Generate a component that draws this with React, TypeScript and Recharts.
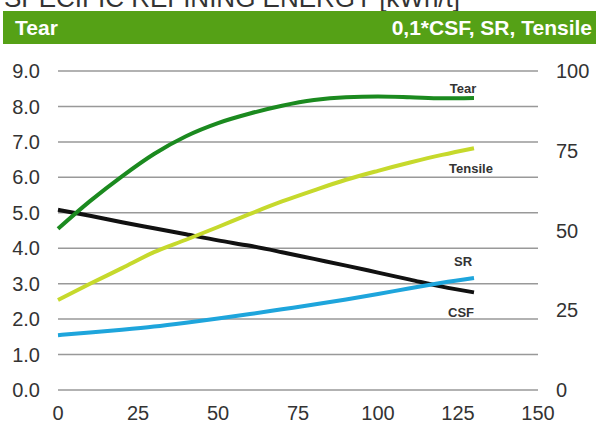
import { CartesianGrid, LabelList, Line, LineChart, XAxis, YAxis } from "recharts";

const energy = [0, 10, 20, 30, 40, 50, 60, 70, 80, 90, 100, 110, 120, 130];
// left axis
const tear = [4.55, 5.33, 6.03, 6.66, 7.16, 7.53, 7.8, 8.02, 8.18, 8.26, 8.28, 8.26, 8.23, 8.24];
// right axis
const tensile = [28.2, 33.3, 38.2, 43.2, 47.1, 51.1, 55.2, 59.1, 62.6, 65.9, 68.7, 71.3, 73.7, 75.8];
const sr = [56.5, 54.6, 52.6, 50.7, 48.8, 46.9, 45.2, 43.2, 41.1, 39.0, 36.8, 34.6, 32.4, 30.6];
const csf = [17.2, 18.0, 18.9, 19.9, 21.1, 22.4, 23.8, 25.3, 26.8, 28.4, 30.1, 31.9, 33.6, 35.1];

const xTicks = [0, 25, 50, 75, 100, 125, 150];
const leftTicks = [0, 1, 2, 3, 4, 5, 6, 7, 8, 9];
const rightTicks = [0, 25, 50, 75, 100];

const data = energy.map((e, i) => ({
  energy: e,
  tear: tear[i],
  tensile: tensile[i],
  sr: sr[i],
  csf: csf[i],
}));

const FONT = "'Liberation Sans', Arial, sans-serif";
const tickStyle = { fontSize: 20, fill: "#333", fontFamily: FONT };

function endLabel(text: string, dx: number, dy: number) {
  return (props: any) => {
    if (props.index !== data.length - 1) return null;
    return (
      <text
        x={props.x + dx}
        y={props.y + dy}
        textAnchor="middle"
        fontSize={13}
        fontWeight="bold"
        fontFamily={FONT}
        fill="#333"
      >
        {text}
      </text>
    );
  };
}

export default function App() {
  return (
    <div style={{ position: "relative", width: 596, height: 424, background: "#fff" }}>
      <style>{`body{margin:0}`}</style>
      <LineChart
        width={596}
        height={424}
        data={data}
        margin={{ top: 71, right: 0, bottom: 0, left: 0 }}
      >
        <CartesianGrid yAxisId="left" vertical={false} stroke="#999" strokeWidth={1.5} />
        <XAxis
          dataKey="energy"
          type="number"
          domain={[0, 150]}
          ticks={xTicks}
          height={34}
          axisLine={false}
          tickLine={false}
          tickMargin={10}
          tick={tickStyle}
        />
        <YAxis
          yAxisId="left"
          domain={[0, 9]}
          ticks={leftTicks}
          width={58}
          axisLine={false}
          tickLine={false}
          tickMargin={12}
          tick={tickStyle}
          tickFormatter={(v: number) => v.toFixed(1)}
        />
        <YAxis
          yAxisId="right"
          orientation="right"
          domain={[0, 100]}
          ticks={rightTicks}
          width={58}
          axisLine={false}
          tickLine={false}
          tickMargin={12}
          tick={{ ...tickStyle, textAnchor: "start" }}
        />
        <Line yAxisId="right" dataKey="sr" type="monotone" stroke="#111" strokeWidth={4} dot={false} isAnimationActive={false}>
          <LabelList dataKey="sr" content={endLabel("SR", -11, -26)} />
        </Line>
        <Line yAxisId="left" dataKey="tear" type="monotone" stroke="#1b8a1f" strokeWidth={4} dot={false} isAnimationActive={false}>
          <LabelList dataKey="tear" content={endLabel("Tear", -11, -5)} />
        </Line>
        <Line yAxisId="right" dataKey="tensile" type="monotone" stroke="#c6d92c" strokeWidth={4} dot={false} isAnimationActive={false}>
          <LabelList dataKey="tensile" content={endLabel("Tensile", -3, 25)} />
        </Line>
        <Line yAxisId="right" dataKey="csf" type="monotone" stroke="#1ea5dc" strokeWidth={4} dot={false} isAnimationActive={false}>
          <LabelList dataKey="csf" content={endLabel("CSF", -13, 39)} />
        </Line>
      </LineChart>
      <svg width={596} height={50} style={{ position: "absolute", left: 0, top: 0 }}>
        <text x={4} y={7} fontSize={26} fontFamily={FONT} fill="#333">
          SPECIFIC REFINING ENERGY [kWh/t]
        </text>
        <rect x={3} y={11} width={593} height={33} fill="#55a116" />
        <text x={15} y={35} fontSize={21} fontWeight="bold" fontFamily={FONT} fill="#fff">
          Tear
        </text>
        <text x={592} y={35} textAnchor="end" fontSize={21} fontWeight="bold" fontFamily={FONT} fill="#fff">
          0,1*CSF, SR, Tensile
        </text>
      </svg>
    </div>
  );
}
